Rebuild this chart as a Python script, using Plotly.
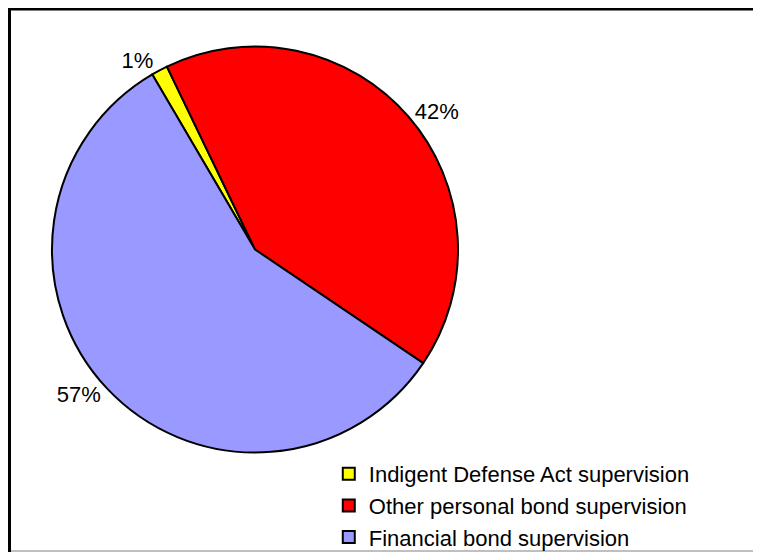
import plotly.graph_objects as go

categories = ["Indigent Defense Act supervision",
              "Other personal bond supervision",
              "Financial bond supervision"]
shares = [1.3, 41.6, 57.1]
colors = ["#FFFF00", "#FF0000", "#9999FF"]

# page body adds an 8px margin, so the figure is sized to fit the window
W, H = 753, 544
FONT = "Arial, 'Liberation Sans', sans-serif"

# pie geometry (pixels, figure coordinates)
cx, cy, r = 247, 241.5, 203

fig = go.Figure(go.Pie(
    labels=categories,
    values=shares,
    sort=False,
    direction="clockwise",
    rotation=-30.4,
    marker=dict(colors=colors, line=dict(color="black", width=2)),
    texttemplate="%{percent:.0%}",
    textposition="outside",
    textfont=dict(family=FONT, size=22, color="black"),
    hoverinfo="label+percent",
    domain=dict(x=[(cx - r) / W, (cx + r) / W],
                y=[(H - cy - r) / H, (H - cy + r) / H]),
))

fig.update_layout(
    width=W, height=H,
    margin=dict(l=0, r=0, t=0, b=0, autoexpand=False),
    paper_bgcolor="white",
    plot_bgcolor="white",
    showlegend=True,
    legend=dict(
        x=0.426, y=-0.011, xanchor="left", yanchor="bottom",
        font=dict(family=FONT, size=22, color="black"),
        bgcolor="rgba(0,0,0,0)",
        tracegroupgap=0,
        itemsizing="constant",
    ),
    shapes=[
        dict(type="rect", xref="paper", yref="paper",
             x0=1.5 / W, x1=749.5 / W, y0=-0.02, y1=1 - 1.0 / H,
             line=dict(color="black", width=3), fillcolor="rgba(0,0,0,0)"),
        dict(type="line", xref="paper", yref="paper",
             x0=3 / W, x1=748 / W, y0=1.0 / H, y1=1.0 / H,
             line=dict(color="#808080", width=1)),
    ],
)

fig.write_html("out.html")
